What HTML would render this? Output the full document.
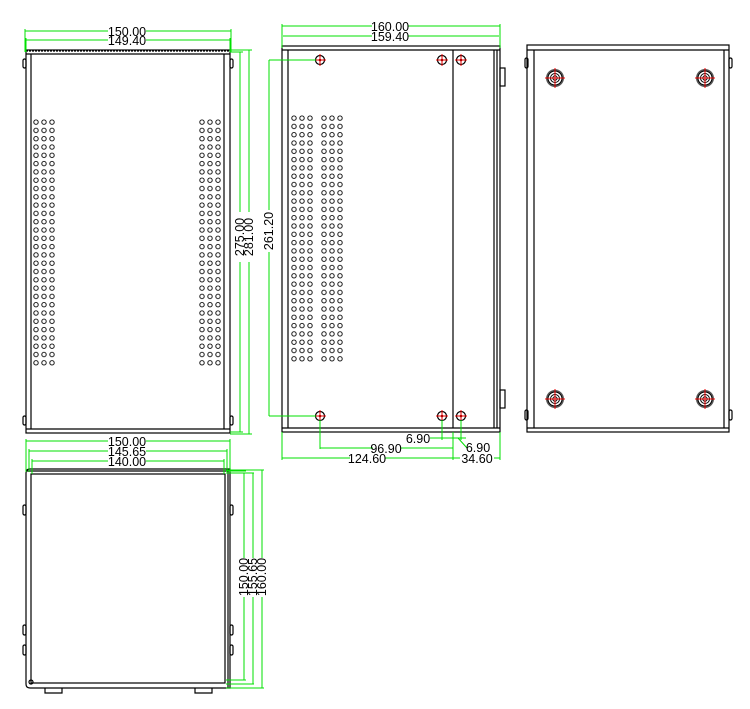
<!DOCTYPE html>
<html><head><meta charset="utf-8"><style>
html,body{margin:0;padding:0;background:#fff;width:750px;height:709px;overflow:hidden}
svg{display:block}
text{font-family:"Liberation Sans",sans-serif;font-size:12.5px;fill:#000}
</style></head><body>
<svg width="750" height="709" viewBox="0 0 750 709" xmlns="http://www.w3.org/2000/svg">
<defs>
<pattern id="h1" x="32" y="118" width="8" height="8.3" patternUnits="userSpaceOnUse">
<circle cx="4" cy="4.1" r="2.2" fill="none" stroke="#000" stroke-width="0.9"/></pattern>
<pattern id="h2" x="198" y="118" width="8" height="8.3" patternUnits="userSpaceOnUse">
<circle cx="4" cy="4.1" r="2.2" fill="none" stroke="#000" stroke-width="0.9"/></pattern>
<pattern id="h3" x="290" y="114" width="8" height="8.3" patternUnits="userSpaceOnUse">
<circle cx="4" cy="4.1" r="2.2" fill="none" stroke="#000" stroke-width="0.9"/></pattern>
<pattern id="h4" x="320" y="114" width="8" height="8.3" patternUnits="userSpaceOnUse">
<circle cx="4" cy="4.1" r="2.2" fill="none" stroke="#000" stroke-width="0.9"/></pattern>
<g id="scr"><circle r="4.5" fill="none" stroke="#000" stroke-width="1.2"/><circle r="1.3" fill="#000"/>
<line x1="-6" y1="0" x2="6" y2="0" stroke="#e00" stroke-width="1"/><line x1="0" y1="-6" x2="0" y2="6" stroke="#e00" stroke-width="1"/></g>
<g id="boss"><circle r="9" fill="#555"/><circle r="7" fill="#fff" stroke="#000"/><circle r="4.5" fill="none" stroke="#000"/><circle r="2.2" fill="none" stroke="#000"/>
<line x1="-10" y1="0" x2="10" y2="0" stroke="#e00" stroke-width="1"/><line x1="0" y1="-10" x2="0" y2="10" stroke="#e00" stroke-width="1"/></g>
</defs>

<g fill="none" stroke="#000" stroke-width="1.2">
<!-- View 1 -->
<rect x="26" y="50" width="204" height="383"/>
<line x1="26" y1="54" x2="230" y2="54"/>
<line x1="26" y1="429" x2="230" y2="429"/>
<line x1="31" y1="54" x2="31" y2="429"/>
<line x1="224" y1="54" x2="224" y2="429"/>
<line x1="26" y1="51" x2="230" y2="51" stroke-dasharray="2 1"/>
<rect x="23" y="59" width="3" height="9" rx="1.5"/><rect x="230" y="59" width="3" height="9" rx="1.5"/>
<rect x="23" y="416" width="3" height="9" rx="1.5"/><rect x="230" y="416" width="3" height="9" rx="1.5"/>
</g>
<rect x="32" y="118" width="24" height="249" fill="url(#h1)"/>
<rect x="198" y="118" width="24" height="249" fill="url(#h2)"/>

<g fill="none" stroke="#000" stroke-width="1.2">
<!-- View 2 -->
<rect x="282" y="46" width="218" height="386"/>
<line x1="282" y1="50" x2="500" y2="50"/>
<line x1="282" y1="428" x2="500" y2="428"/>
<line x1="288" y1="50" x2="288" y2="428"/>
<line x1="453" y1="50" x2="453" y2="428"/>
<line x1="494" y1="50" x2="494" y2="428"/>
<line x1="497" y1="50" x2="497" y2="428"/>
<rect x="500" y="68" width="5" height="18"/>
<rect x="500" y="390" width="5" height="18"/>
</g>
<rect x="290" y="114" width="24" height="249" fill="url(#h3)"/>
<rect x="320" y="114" width="24" height="249" fill="url(#h4)"/>
<use href="#scr" x="320" y="60"/><use href="#scr" x="442" y="60"/><use href="#scr" x="461" y="60"/>
<use href="#scr" x="320" y="416"/><use href="#scr" x="442" y="416"/><use href="#scr" x="461" y="416"/>

<g fill="none" stroke="#000" stroke-width="1.2">
<!-- View 3 -->
<rect x="527" y="45" width="202" height="387"/>
<line x1="527" y1="50" x2="729" y2="50"/>
<line x1="527" y1="428" x2="729" y2="428"/>
<line x1="534" y1="50" x2="534" y2="428"/>
<line x1="724" y1="50" x2="724" y2="428"/>
<rect x="525" y="58" width="3" height="10" rx="1.5"/><rect x="729" y="58" width="3" height="10" rx="1.5"/>
<rect x="525" y="410" width="3" height="10" rx="1.5"/><rect x="729" y="410" width="3" height="10" rx="1.5"/>
</g>
<use href="#boss" x="555" y="78"/><use href="#boss" x="705" y="78"/>
<use href="#boss" x="555" y="399"/><use href="#boss" x="705" y="399"/>

<g fill="none" stroke="#000" stroke-width="1.2">
<!-- View 4 -->
<path d="M30 469 H230 V688 H30 Q26 688 26 684 V473 Q26 469 30 469 Z"/>
<rect x="31" y="474" width="194" height="209"/>
<line x1="26" y1="471" x2="230" y2="471"/>
<line x1="228" y1="469" x2="228" y2="688"/>
<circle cx="31" cy="682" r="2"/>
<path d="M45 688 V693 H62 V688"/><path d="M195 688 V693 H212 V688"/>
<rect x="23" y="505" width="3" height="10" rx="1.5"/><rect x="23" y="625" width="3" height="10" rx="1.5"/><rect x="23" y="645" width="3" height="10" rx="1.5"/>
<rect x="230" y="505" width="3" height="10" rx="1.5"/><rect x="230" y="625" width="3" height="10" rx="1.5"/><rect x="230" y="645" width="3" height="10" rx="1.5"/>
</g>

<!-- Dimensions -->
<g fill="none" stroke="#00e000" stroke-width="1">
<!-- V1 top -->
<line x1="25" y1="31" x2="108" y2="31"/><line x1="146" y1="31" x2="231" y2="31"/>
<line x1="25" y1="29" x2="25" y2="52"/><line x1="231" y1="29" x2="231" y2="52"/>
<line x1="26" y1="40" x2="108" y2="40"/><line x1="146" y1="40" x2="230" y2="40"/>
<line x1="26" y1="38" x2="26" y2="52"/><line x1="230" y1="38" x2="230" y2="52"/>
<!-- V1 right -->
<line x1="230" y1="52" x2="243" y2="52"/><line x1="230" y1="50" x2="252" y2="50"/>
<line x1="230" y1="432" x2="243" y2="432"/><line x1="230" y1="434" x2="252" y2="434"/>
<line x1="240" y1="52" x2="240" y2="212"/><line x1="240" y1="262" x2="240" y2="432"/>
<line x1="249" y1="50" x2="249" y2="212"/><line x1="249" y1="262" x2="249" y2="434"/>
<!-- V2 top -->
<line x1="282" y1="26" x2="372" y2="26"/><line x1="408" y1="26" x2="500" y2="26"/>
<line x1="282" y1="24" x2="282" y2="48"/><line x1="500" y1="24" x2="500" y2="48"/>
<line x1="283" y1="36" x2="372" y2="36"/><line x1="408" y1="36" x2="499" y2="36"/>
<!-- 261.20 -->
<line x1="269" y1="60" x2="316" y2="60"/><line x1="269" y1="416" x2="316" y2="416"/>
<line x1="269" y1="60" x2="269" y2="210"/><line x1="269" y1="252" x2="269" y2="416"/>
<!-- bottom -->
<line x1="442" y1="420" x2="442" y2="440"/><line x1="461" y1="420" x2="461" y2="440"/>
<line x1="430" y1="438" x2="466" y2="438"/>
<line x1="458" y1="438" x2="467" y2="448"/>
<line x1="320" y1="420" x2="320" y2="449"/>
<line x1="320" y1="448" x2="373" y2="448"/><line x1="400" y1="448" x2="453" y2="448"/>
<line x1="282" y1="432" x2="282" y2="460"/><line x1="453" y1="432" x2="453" y2="460"/><line x1="500" y1="432" x2="500" y2="460"/>
<line x1="282" y1="458" x2="350" y2="458"/><line x1="385" y1="458" x2="453" y2="458"/>
<line x1="453" y1="458" x2="460" y2="458"/><line x1="494" y1="458" x2="500" y2="458"/>
<!-- V4 top -->
<line x1="26" y1="441" x2="108" y2="441"/><line x1="146" y1="441" x2="230" y2="441"/>
<line x1="26" y1="439" x2="26" y2="472"/><line x1="230" y1="439" x2="230" y2="472"/>
<line x1="29" y1="451" x2="108" y2="451"/><line x1="146" y1="451" x2="227" y2="451"/>
<line x1="29" y1="449" x2="29" y2="472"/><line x1="227" y1="449" x2="227" y2="472"/>
<line x1="32" y1="461" x2="108" y2="461"/><line x1="146" y1="461" x2="224" y2="461"/>
<line x1="32" y1="459" x2="32" y2="474"/><line x1="224" y1="459" x2="224" y2="474"/>
<!-- V4 right -->
<line x1="226" y1="471" x2="246" y2="471"/><line x1="226" y1="473" x2="254" y2="473"/><line x1="226" y1="470" x2="264" y2="470"/>
<line x1="226" y1="680" x2="246" y2="680"/><line x1="226" y1="684" x2="254" y2="684"/><line x1="226" y1="688" x2="264" y2="688"/>
<line x1="244" y1="473" x2="244" y2="558"/><line x1="244" y1="597" x2="244" y2="680"/>
<line x1="253" y1="473" x2="253" y2="558"/><line x1="253" y1="597" x2="253" y2="684"/>
<line x1="262" y1="470" x2="262" y2="558"/><line x1="262" y1="597" x2="262" y2="688"/>
</g>

<g>
<text x="127" y="36" text-anchor="middle">150.00</text>
<text x="127" y="45" text-anchor="middle">149.40</text>
<text transform="translate(244,237) rotate(-90)" text-anchor="middle">275.00</text>
<text transform="translate(253,237) rotate(-90)" text-anchor="middle">281.00</text>
<text x="390" y="31" text-anchor="middle">160.00</text>
<text x="390" y="41" text-anchor="middle">159.40</text>
<text transform="translate(273,231) rotate(-90)" text-anchor="middle">261.20</text>
<text x="418" y="443" text-anchor="middle">6.90</text>
<text x="478" y="452" text-anchor="middle">6.90</text>
<text x="386" y="453" text-anchor="middle">96.90</text>
<text x="367" y="463" text-anchor="middle">124.60</text>
<text x="477" y="463" text-anchor="middle">34.60</text>
<text x="127" y="446" text-anchor="middle">150.00</text>
<text x="127" y="456" text-anchor="middle">145.65</text>
<text x="127" y="466" text-anchor="middle">140.00</text>
<text transform="translate(248,577) rotate(-90)" text-anchor="middle">150.00</text>
<text transform="translate(257,577) rotate(-90)" text-anchor="middle">155.65</text>
<text transform="translate(266,577) rotate(-90)" text-anchor="middle">160.00</text>
</g>
</svg>
</body></html>
